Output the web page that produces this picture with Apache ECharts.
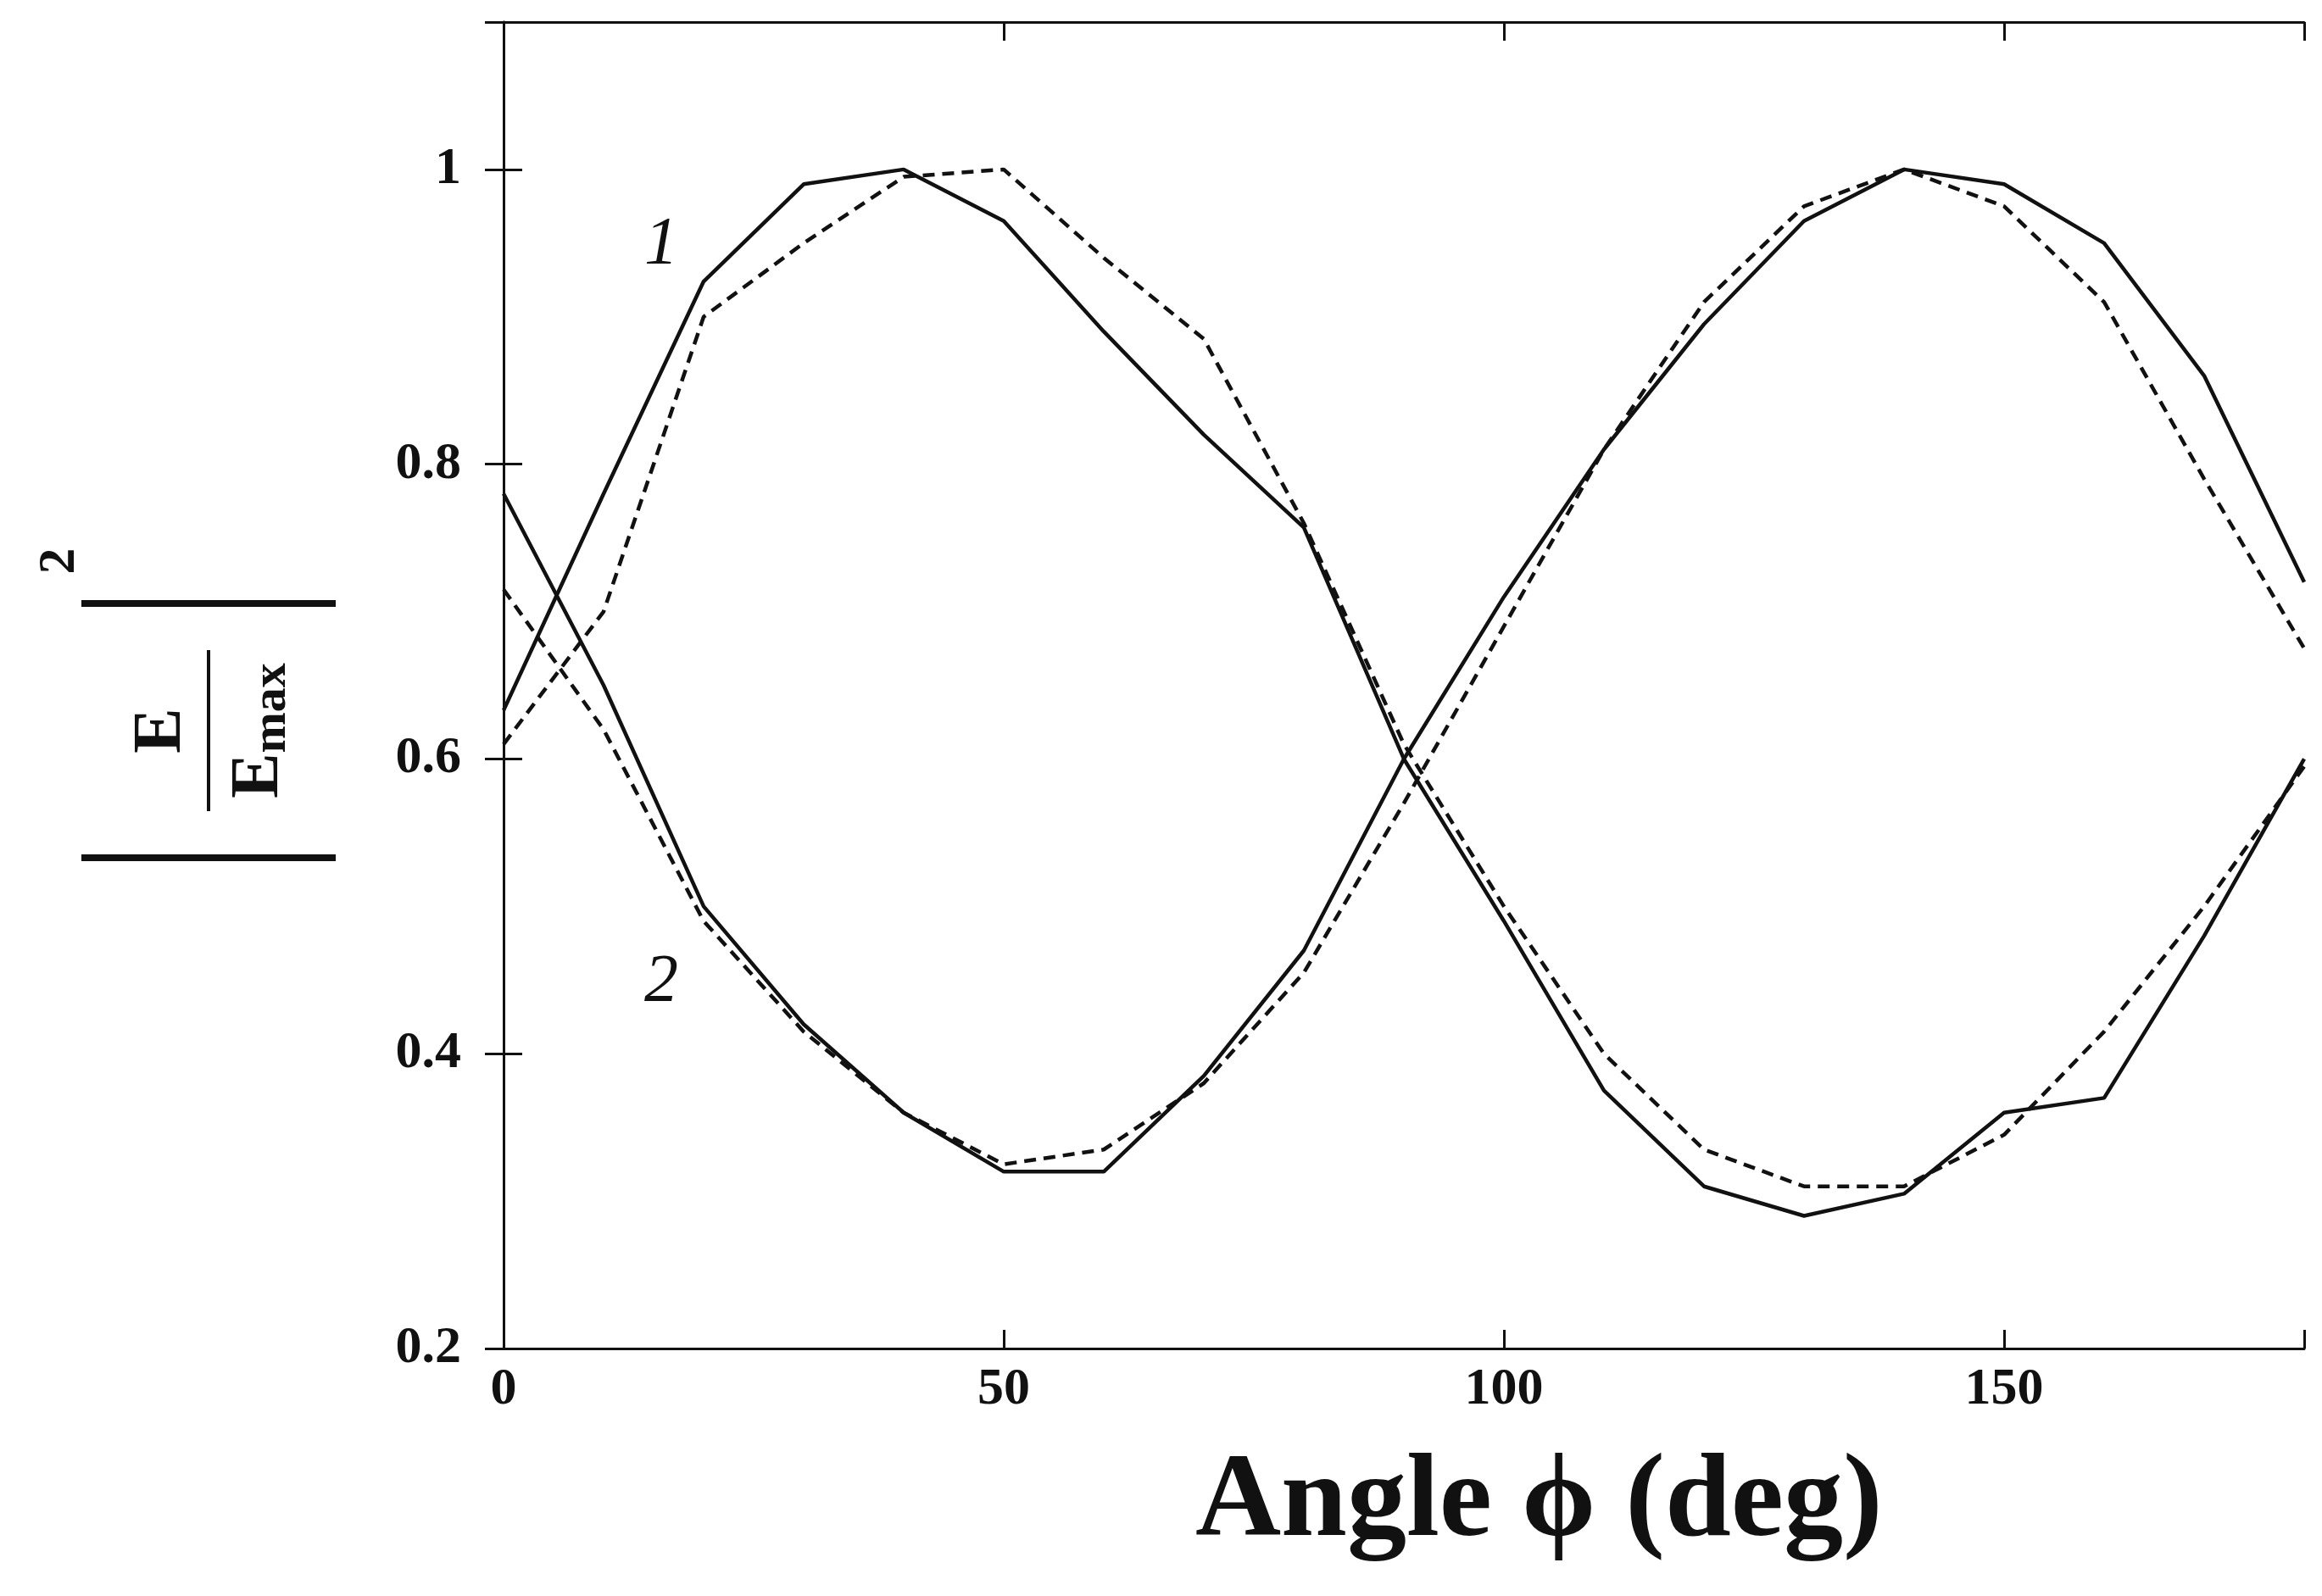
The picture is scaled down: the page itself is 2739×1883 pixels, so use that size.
<!DOCTYPE html>
<html><head><meta charset="utf-8">
<script src="https://cdn.jsdelivr.net/npm/echarts@6/dist/echarts.min.js"></script>
<style>html,body{margin:0;background:#fff}#c{width:2739px;height:1883px}</style>
</head><body><div id="c"></div>
<script>
// angles in degrees
const angles = [0,10,20,30,40,50,60,70,80,90,100,110,120,130,140,150,160,170,180];
// curve 1
const c1Solid  = [0.633,0.78,0.924,0.99,1.0,0.965,0.89,0.82,0.757,0.6,0.49,0.375,0.31,0.29,0.305,0.36,0.37,0.48,0.6];
const c1Dashed = [0.61,0.70,0.90,0.95,0.995,1.0,0.94,0.885,0.76,0.61,0.50,0.40,0.335,0.31,0.31,0.345,0.415,0.50,0.595];
// curve 2
const c2Solid  = [0.78,0.65,0.50,0.42,0.36,0.32,0.32,0.385,0.47,0.60,0.71,0.81,0.895,0.965,1.0,0.99,0.95,0.86,0.72];
const c2Dashed = [0.715,0.62,0.49,0.415,0.36,0.325,0.335,0.38,0.455,0.57,0.69,0.81,0.91,0.975,1.0,0.975,0.91,0.79,0.675];
const xTicks = [0,50,100,150];

const font = '"Liberation Serif", serif';
const pair = ys => angles.map((a, i) => [a, ys[i]]);
function line(ys, type) {
    return {type: 'line', data: pair(ys), symbol: 'none', animation: false,
        lineStyle: {color: '#111', width: 4.5, type: type}};
}

const chart = echarts.init(document.getElementById('c'));
const axisLine = {show: true, lineStyle: {color: '#111', width: 3}};
const ticks = {show: true, inside: true, length: 22, lineStyle: {color: '#111', width: 3}};
chart.setOption({
    backgroundColor: '#fff',
    grid: {left: 594, right: 21, top: 26, bottom: 292},
    xAxis: [
        {type: 'value', min: 0, max: 180, interval: 50, axisLine: axisLine, axisTick: ticks,
         splitLine: {show: false},
         axisLabel: {fontFamily: font, fontWeight: 'bold', fontSize: 62, color: '#111', margin: 18,
            formatter: v => xTicks.includes(v) ? String(v) : ''}},
        {type: 'value', position: 'top', min: 0, max: 180, interval: 50, axisLine: axisLine,
         axisTick: ticks, axisLabel: {show: false}, splitLine: {show: false}}
    ],
    yAxis: [
        {type: 'value', min: 0.2, max: 1.1, interval: 0.2, axisLine: axisLine, axisTick: ticks,
         splitLine: {show: false},
         axisLabel: {fontFamily: font, fontWeight: 'bold', fontSize: 62, color: '#111', margin: 50,
            formatter: v => v > 1.05 ? '' : (Math.abs(v - 1) < 1e-6 ? '1' : v.toFixed(1))}},
        {type: 'value', position: 'right', min: 0.2, max: 1.1, interval: 0.2, axisLine: axisLine,
         axisTick: ticks, axisLabel: {show: false}, splitLine: {show: false}}
    ],
    series: [line(c1Solid, 'solid'), line(c1Dashed, [14, 9]), line(c2Solid, 'solid'), line(c2Dashed, [14, 9])],
    graphic: [
        {type: 'text', x: 1410, y: 1705, style: {text: 'Angle ϕ (deg)', font: 'bold 140px ' + font, fill: '#111'}},
        {type: 'text', x: 760, y: 250, style: {text: '1', font: 'italic 80px ' + font, fill: '#111'}},
        {type: 'text', x: 760, y: 1120, style: {text: '2', font: 'italic 80px ' + font, fill: '#111'}},
        {type: 'group', x: 246, y: 862, rotation: Math.PI / 2, children: [
            {type: 'text', x: 0, y: -55, style: {text: 'E', font: 'bold 80px ' + font, fill: '#111', align: 'center', verticalAlign: 'middle'}},
            {type: 'line', shape: {x1: -95, y1: 0, x2: 95, y2: 0}, style: {stroke: '#111', lineWidth: 4}},
            {type: 'text', x: 0, y: 60, style: {text: '{a|E}{b|max}', align: 'center', verticalAlign: 'middle',
                rich: {a: {font: 'bold 80px ' + font, fill: '#111'}, b: {font: 'bold 58px ' + font, fill: '#111', padding: [30, 0, 0, 0]}}}},
            {type: 'line', shape: {x1: -150, y1: -150, x2: -150, y2: 150}, style: {stroke: '#111', lineWidth: 8}},
            {type: 'line', shape: {x1: 150, y1: -150, x2: 150, y2: 150}, style: {stroke: '#111', lineWidth: 8}},
            {type: 'text', x: 200, y: -175, style: {text: '2', font: 'bold 62px ' + font, fill: '#111', align: 'center', verticalAlign: 'middle'}}
        ]}
    ]
});
</script>
</body></html>
